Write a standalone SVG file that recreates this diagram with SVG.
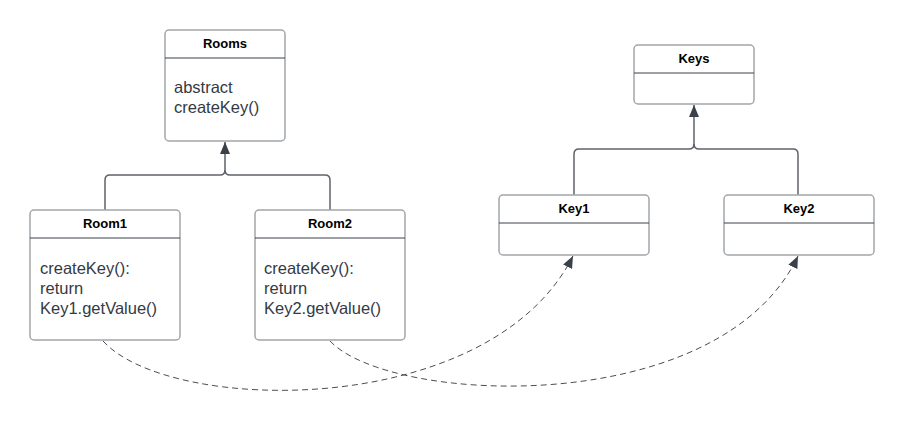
<svg xmlns="http://www.w3.org/2000/svg" width="904" height="421" viewBox="0 0 904 421">
<style>
.box{fill:#ffffff;stroke:#a3a6aa;stroke-width:1.5}
.div{stroke:#3a414a;stroke-width:1}
.title{font-family:"Liberation Sans",Arial,sans-serif;font-size:13px;font-weight:bold;fill:#000;text-anchor:middle}
.body{font-family:"Liberation Sans",Arial,sans-serif;font-size:16.5px;fill:#333a45}
.inh{fill:none;stroke:#5f6369;stroke-width:1.5}
.dep{fill:none;stroke:#4a4e54;stroke-width:1;stroke-dasharray:6,4}
</style>
<defs>
<marker id="tri" viewBox="0 0 12 10" refX="12" refY="5" markerWidth="12" markerHeight="10" markerUnits="userSpaceOnUse" orient="auto">
<path d="M0,0 L12,5 L0,10 Z" fill="#3a414a"/>
</marker>
<marker id="tri2" viewBox="0 0 12 10" refX="12" refY="5" markerWidth="12" markerHeight="10" markerUnits="userSpaceOnUse" orient="auto">
<path d="M0,0 L12,5 L0,10 Z" fill="#3a414a"/>
</marker>
</defs>
<g id="connectors">
<path class="inh" d="M105,210 V180 Q105,175 110,175 H220 Q225,175 225,170 V142" marker-end="url(#tri)"/>
<path class="inh" d="M330,210 V180 Q330,175 325,175 H230 Q225,175 225,170"/>
<path class="inh" d="M574,195 V154 Q574,149 579,149 H689 Q694,149 694,144 V105" marker-end="url(#tri)"/>
<path class="inh" d="M798,195 V154 Q798,149 793,149 H699 Q694,149 694,144"/>
<path class="dep" d="M103,341 C170,415 490,420 573,256" marker-end="url(#tri2)"/>
<path class="dep" d="M330,341 C390,405 720,420 798,256" marker-end="url(#tri2)"/>
</g>
<g id="Rooms">
<rect class="box" x="165" y="30" width="120" height="111" rx="4"/>
<line class="div" x1="165" y1="58" x2="285" y2="58"/>
<text class="title" x="225" y="48">Rooms</text>
<text class="body" x="174" y="93">abstract</text>
<text class="body" x="174" y="113">createKey()</text>
</g>
<g id="Room1">
<rect class="box" x="30" y="210" width="150" height="130" rx="4"/>
<line class="div" x1="30" y1="238" x2="180" y2="238"/>
<text class="title" x="105" y="228">Room1</text>
<text class="body" x="40" y="274">createKey():</text>
<text class="body" x="40" y="294">return</text>
<text class="body" x="40" y="314">Key1.getValue()</text>
</g>
<g id="Room2">
<rect class="box" x="255" y="210" width="150" height="130" rx="4"/>
<line class="div" x1="255" y1="238" x2="405" y2="238"/>
<text class="title" x="330" y="228">Room2</text>
<text class="body" x="264" y="274">createKey():</text>
<text class="body" x="264" y="294">return</text>
<text class="body" x="264" y="314">Key2.getValue()</text>
</g>
<g id="Keys">
<rect class="box" x="634" y="45" width="120" height="59" rx="4"/>
<line class="div" x1="634" y1="73" x2="754" y2="73"/>
<text class="title" x="694" y="63">Keys</text>
</g>
<g id="Key1">
<rect class="box" x="499" y="195" width="150" height="60" rx="4"/>
<line class="div" x1="499" y1="223" x2="649" y2="223"/>
<text class="title" x="574" y="213">Key1</text>
</g>
<g id="Key2">
<rect class="box" x="724" y="195" width="150" height="60" rx="4"/>
<line class="div" x1="724" y1="223" x2="874" y2="223"/>
<text class="title" x="799" y="213">Key2</text>
</g>
</svg>
